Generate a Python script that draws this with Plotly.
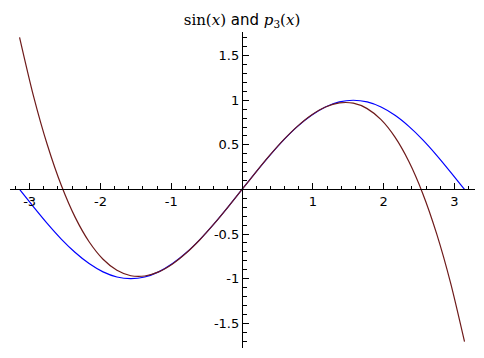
import plotly.graph_objects as go

# sample positions (x)
x_vals = [-3.142, -2.945, -2.749, -2.553, -2.356, -2.160, -1.963, -1.767, -1.571,
          -1.374, -1.178, -0.982, -0.785, -0.589, -0.393, -0.196, 0.0,
          0.196, 0.393, 0.589, 0.785, 0.982, 1.178, 1.374, 1.571,
          1.767, 1.963, 2.160, 2.356, 2.553, 2.749, 2.945, 3.142]

sin_vals = [0.0, -0.195, -0.383, -0.556, -0.707, -0.831, -0.924, -0.981, -1.0,
            -0.981, -0.924, -0.831, -0.707, -0.556, -0.383, -0.195, 0.0,
            0.195, 0.383, 0.556, 0.707, 0.831, 0.924, 0.981, 1.0,
            0.981, 0.924, 0.831, 0.707, 0.556, 0.383, 0.195, 0.0]

p3_vals = [1.706, 1.047, 0.498, 0.047, -0.313, -0.586, -0.782, -0.906, -0.967,
           -0.970, -0.924, -0.835, -0.710, -0.558, -0.384, -0.195, 0.0,
           0.195, 0.384, 0.558, 0.710, 0.835, 0.924, 0.970, 0.967,
           0.906, 0.782, 0.586, 0.313, -0.047, -0.498, -1.047, -1.706]

x_ticks = [-3, -2, -1, 1, 2, 3]
x_ticktext = ["-3", "-2", "-1", "1", "2", "3"]
y_ticks = [-1.5, -1, -0.5, 0.5, 1, 1.5]
y_ticktext = ["-1.5", "-1", "-0.5", "0.5", "1", "1.5"]

x_range = [-3.277, 3.29]
y_range = [-1.777, 1.765]

fig = go.Figure()
fig.add_trace(go.Scatter(x=x_vals, y=sin_vals, mode="lines",
                         line=dict(color="#0000ff", width=1.2, shape="spline", smoothing=0.8),
                         hoverinfo="skip", showlegend=False))
fig.add_trace(go.Scatter(x=x_vals, y=p3_vals, mode="lines",
                         line=dict(color="#6e1a1a", width=1.2, shape="spline", smoothing=0.8),
                         hoverinfo="skip", showlegend=False))

xpos = (0 - y_range[0]) / (y_range[1] - y_range[0])
ypos = (0 - x_range[0]) / (x_range[1] - x_range[0])

fig.update_layout(
    width=484, height=358,
    margin=dict(l=10, r=9, t=32, b=10),
    paper_bgcolor="white", plot_bgcolor="white",
    font=dict(family="DejaVu Sans", size=13, color="black"),
    title=dict(
        text='<span style="font-family:DejaVu Serif">sin(<i>x</i>)</span> and '
             '<span style="font-family:DejaVu Serif"><i>p</i><sub>3</sub>(<i>x</i>)</span>',
        x=0.5, xanchor="center", y=1 - 20 / 358, yanchor="middle",
        font=dict(size=15, family="DejaVu Sans", color="black")),
    xaxis=dict(range=x_range, anchor="free", position=xpos,
               showline=True, linecolor="black", linewidth=1.3,
               showgrid=False, zeroline=False,
               tickmode="array", tickvals=x_ticks, ticktext=x_ticktext,
               ticks="inside", ticklen=6, tickwidth=1, tickcolor="black",
               minor=dict(ticks="inside", ticklen=3.5, tickwidth=1, tickcolor="black",
                          dtick=0.2, tick0=0, showgrid=False),
               tickfont=dict(size=13)),
    yaxis=dict(range=y_range, anchor="free", position=ypos,
               showline=True, linecolor="black", linewidth=1.3,
               showgrid=False, zeroline=False,
               tickmode="array", tickvals=y_ticks, ticktext=y_ticktext,
               ticks="inside", ticklen=6, tickwidth=1, tickcolor="black",
               minor=dict(ticks="inside", ticklen=3.5, tickwidth=1, tickcolor="black",
                          dtick=0.1, tick0=0, showgrid=False),
               tickfont=dict(size=13)),
)

fig.write_html("out.html")
